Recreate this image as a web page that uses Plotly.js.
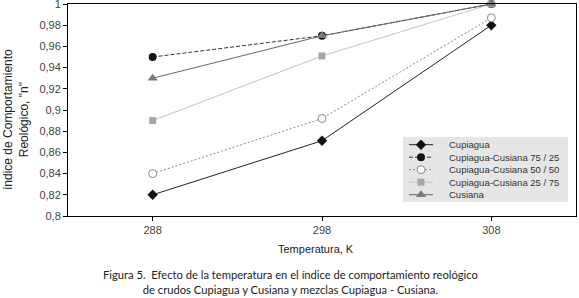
<!DOCTYPE html>
<html>
<head>
<meta charset="utf-8">
<script src="https://cdn.plot.ly/plotly-3.0.1.min.js"></script>
<style>html,body{margin:0;padding:0;background:#fff;}#chart{width:579px;height:298px;}</style>
</head>
<body>
<div id="chart"></div>
<script>
// ---- data ----
const categories = [288, 298, 308];
const seriesNames = ['Cupiagua', 'Cupiagua-Cusiana 75 / 25', 'Cupiagua-Cusiana 50 / 50', 'Cupiagua-Cusiana 25 / 75', 'Cusiana'];
const cupiagua = [0.82, 0.871, 0.98];
const mix7525 = [0.95, 0.97, 1.0];
const mix5050 = [0.84, 0.892, 0.987];
const mix2575 = [0.89, 0.951, 1.0];
const cusiana = [0.93, 0.97, 1.0];
const yTickVals = [0.8, 0.82, 0.84, 0.86, 0.88, 0.9, 0.92, 0.94, 0.96, 0.98, 1];
const yTickText = ['0,8', '0,82', '0,84', '0,86', '0,88', '0,9', '0,92', '0,94', '0,96', '0,98', '1'];
const xTitle = 'Temperatura, K';
const yTitle = 'índice de Comportamiento<br>Reológico, "n"';
const caption = 'Figura 5.  Efecto de la temperatura en el índice de comportamiento reológico<br>de crudos Cupiagua y Cusiana y mezclas Cupiagua - Cusiana.';

const seriesValues = [cupiagua, mix7525, mix5050, mix2575, cusiana];

// ---- styles ----
const styles = [
  {line: {color: '#222', width: 1, dash: 'solid'}, marker: {symbol: 'diamond', size: 8, color: '#111', line: {color: '#111', width: 0}}},
  {line: {color: '#333', width: 1, dash: '4px,2px'}, marker: {symbol: 'circle', size: 8, color: '#151515', line: {color: '#151515', width: 0}}},
  {line: {color: '#8a8a8a', width: 1, dash: '2px,2px'}, marker: {symbol: 'circle', size: 8, color: '#ffffff', line: {color: '#8a8a8a', width: 1}}},
  {line: {color: '#c4c4c4', width: 1, dash: 'solid'}, marker: {symbol: 'square', size: 7, color: '#a6a6a6', line: {color: '#a6a6a6', width: 0}}},
  {line: {color: '#666', width: 1, dash: 'solid'}, marker: {symbol: 'triangle-up', size: 9, color: '#7a7a7a', line: {color: '#7a7a7a', width: 0}}}
];

const FONT = 'Liberation Sans, Arial, sans-serif';

// plot-area geometry (pixels)
const L = 68, R = 576, T = 4, B = 216;
const W = 579, H = 298;
const px = x => (x - L) / (R - L);
const py = y => (B - y) / (B - T);

const traces = [];
seriesValues.forEach((vals, i) => {
  traces.push({
    type: 'scatter', mode: 'lines+markers', name: seriesNames[i],
    x: categories, y: vals,
    line: styles[i].line, marker: styles[i].marker,
    cliponaxis: false, showlegend: false, hoverinfo: 'x+y+name'
  });
});

// custom compact legend
const legX0 = 409, legX1 = 433, legXm = 421, legTextX = 447, legY0 = 144.7, legStep = 12.5;
const annotations = [];
seriesNames.forEach((name, i) => {
  const yy = legY0 + i * legStep;
  const m = styles[i].marker;
  traces.push({
    type: 'scatter', mode: 'lines+markers', xaxis: 'x2', yaxis: 'y2',
    x: [legX0, legXm, legX1], y: [yy, yy, yy],
    line: styles[i].line,
    marker: {symbol: m.symbol, size: [0, m.size, 0], color: m.color, line: m.line, opacity: [0, 1, 0]},
    showlegend: false, hoverinfo: 'skip', cliponaxis: false
  });
  annotations.push({
    xref: 'paper', yref: 'paper', x: px(legTextX), y: py(yy), xanchor: 'left', yanchor: 'middle',
    text: name, showarrow: false, font: {family: FONT, size: 9.5, color: '#333'}
  });
});

annotations.push({
  xref: 'paper', yref: 'paper', x: px(316), y: py(249), xanchor: 'center', yanchor: 'middle',
  text: xTitle, showarrow: false, font: {family: FONT, size: 11, color: '#222'}
});
annotations.push({
  xref: 'paper', yref: 'paper', x: px(16), y: py(120), xanchor: 'center', yanchor: 'middle', textangle: -90,
  text: yTitle, showarrow: false, font: {family: FONT, size: 12, color: '#222'}
});
annotations.push({
  xref: 'paper', yref: 'paper', x: px(290), y: py(281.5), xanchor: 'center', yanchor: 'middle',
  text: caption, showarrow: false, font: {family: 'Lato, sans-serif', size: 11.2, color: '#222'}
});

const layout = {
  width: W, height: H,
  margin: {l: L, r: W - R, t: T, b: H - B, pad: 0},
  paper_bgcolor: '#fff', plot_bgcolor: '#fff',
  showlegend: false,
  font: {family: FONT, size: 11, color: '#444'},
  xaxis: {
    range: [283, 313], tickvals: categories, ticktext: categories.map(String),
    showline: true, mirror: true, linecolor: '#000', linewidth: 1,
    ticks: 'outside', ticklen: 4, tickcolor: '#000', showgrid: false, zeroline: false,
    tickfont: {size: 11, color: '#444'}, ticklabeloverflow: 'allow'
  },
  yaxis: {
    range: [0.8, 1], tickvals: yTickVals, ticktext: yTickText,
    showline: true, mirror: true, linecolor: '#000', linewidth: 1,
    ticks: 'outside', ticklen: 4, tickcolor: '#000', showgrid: false, zeroline: false,
    tickfont: {size: 11, color: '#444'}, ticklabeloverflow: 'allow'
  },
  xaxis2: {overlaying: 'x', range: [L, R], visible: false, fixedrange: true},
  yaxis2: {overlaying: 'y', range: [B, T], visible: false, fixedrange: true},
  shapes: [{
    type: 'rect', xref: 'paper', yref: 'paper',
    x0: px(403), x1: px(568), y0: py(137), y1: py(202),
    fillcolor: '#e6e6e6', line: {width: 0}, layer: 'below'
  }],
  annotations: annotations
};

Plotly.newPlot('chart', traces, layout, {displayModeBar: false, staticPlot: true});
</script>
</body>
</html>
